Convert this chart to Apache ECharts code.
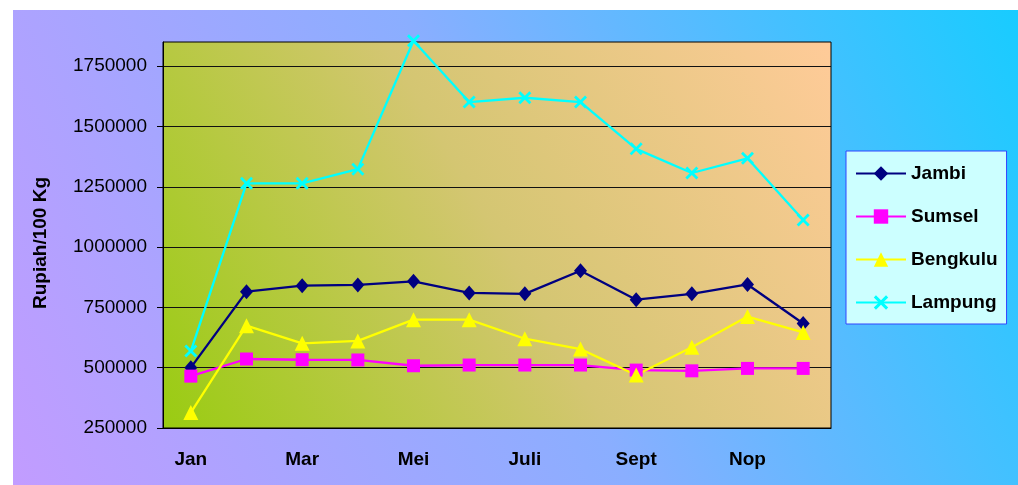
<!DOCTYPE html>
<html>
<head>
<meta charset="utf-8">
<script src="https://cdn.jsdelivr.net/npm/echarts@6/dist/echarts.min.js"></script>
<style>
  html, body { margin: 0; padding: 0; background: #fff; }
  #chart { width: 1018px; height: 485px; }
</style>
</head>
<body>
<div id="chart"></div>
<script>
// bulan
var months = ['Jan', 'Feb', 'Mar', 'Apr', 'Mei', 'Juni', 'Juli', 'Agst', 'Sept', 'Okt', 'Nop', 'Des'];
// harga (Rupiah/100 Kg)
var jambi = [500000, 815000, 840000, 843000, 858000, 810000, 806000, 902000, 782000, 806000, 845000, 683000];
var sumsel = [465000, 536000, 533000, 532000, 508000, 511000, 511000, 511000, 490000, 487000, 497000, 497000];
var bengkulu = [314000, 674000, 601000, 611000, 699000, 699000, 620000, 577000, 470000, 585000, 712000, 646000];
var lampung = [569000, 1264000, 1264000, 1323000, 1855000, 1601000, 1619000, 1601000, 1407000, 1307000, 1368000, 1112000];
var yTicks = [250000, 500000, 750000, 1000000, 1250000, 1500000, 1750000];

var font = 'Arial, "Liberation Sans", sans-serif';
// simbol X
var crossPath = 'path://M1.5,0L5,3.5L8.5,0L10,1.5L6.5,5L10,8.5L8.5,10L5,6.5L1.5,10L0,8.5L3.5,5L0,1.5Z';

function makeLine(name, data, color, symbol, size) {
    return {
        name: name,
        type: 'line',
        data: data,
        symbol: symbol,
        symbolSize: size,
        clip: false,
        lineStyle: { color: color, width: 2.3 },
        itemStyle: { color: color },
        emphasis: { disabled: true }
    };
}

var chart = echarts.init(document.getElementById('chart'));
chart.setOption({
    animation: false,
    graphic: [{
        type: 'rect',
        left: 13, top: 10, z: -10, silent: true,
        shape: { width: 1005, height: 475 },
        style: {
            fill: new echarts.graphic.LinearGradient(0, 1, 1, 0, [
                { offset: 0, color: '#c29cff' },
                { offset: 0.5, color: '#8aaeff' },
                { offset: 1, color: '#18ccff' }
            ])
        }
    }],
    grid: {
        left: 163, right: 187, top: 42, bottom: 57,
        show: true,
        borderColor: '#000',
        borderWidth: 1,
        backgroundColor: new echarts.graphic.LinearGradient(0, 1, 1, 0, [
            { offset: 0, color: '#99cc11' },
            { offset: 0.5, color: '#d4c672' },
            { offset: 1, color: '#ffcb99' }
        ])
    },
    legend: {
        orient: 'vertical',
        left: 846, top: 151,
        padding: [13, 9, 12, 9],
        itemGap: 24,
        itemWidth: 50,
        itemHeight: 18,
        backgroundColor: '#ccffff',
        borderColor: '#3344ff',
        borderWidth: 1,
        textStyle: { fontFamily: font, fontSize: 19, fontWeight: 'bold', color: '#000' },
        data: ['Jambi', 'Sumsel', 'Bengkulu', 'Lampung']
    },
    xAxis: {
        type: 'category',
        data: months,
        boundaryGap: true,
        axisLine: { lineStyle: { color: '#000', width: 1 } },
        axisTick: { interval: 0, length: 6, lineStyle: { color: '#000' } },
        axisLabel: { interval: 1, margin: 22, fontFamily: font, fontSize: 19, fontWeight: 'bold', color: '#000' },
        splitLine: { show: false }
    },
    yAxis: {
        type: 'value',
        min: 250000,
        max: 1850000,
        interval: 250000,
        name: 'Rupiah/100 Kg',
        nameLocation: 'middle',
        nameGap: 113,
        nameRotate: 90,
        nameTextStyle: { fontFamily: font, fontSize: 19, fontWeight: 'bold', color: '#000', padding: [0, 16, 0, 0] },
        axisLine: { show: true, lineStyle: { color: '#000', width: 1 } },
        axisTick: { show: true, length: 6, customValues: yTicks, lineStyle: { color: '#000' } },
        axisLabel: {
            margin: 16, customValues: yTicks, fontFamily: font, fontSize: 19, color: '#000',
            formatter: function (v) { return String(v); }
        },
        splitLine: { lineStyle: { color: '#111', width: 1 } }
    },
    series: [
        makeLine('Jambi', jambi, '#000080', 'diamond', [13, 15]),
        makeLine('Sumsel', sumsel, '#ff00ff', 'rect', 13),
        makeLine('Bengkulu', bengkulu, '#ffff00', 'triangle', 15),
        makeLine('Lampung', lampung, '#00ffff', crossPath, 13)
    ]
});
</script>
</body>
</html>
